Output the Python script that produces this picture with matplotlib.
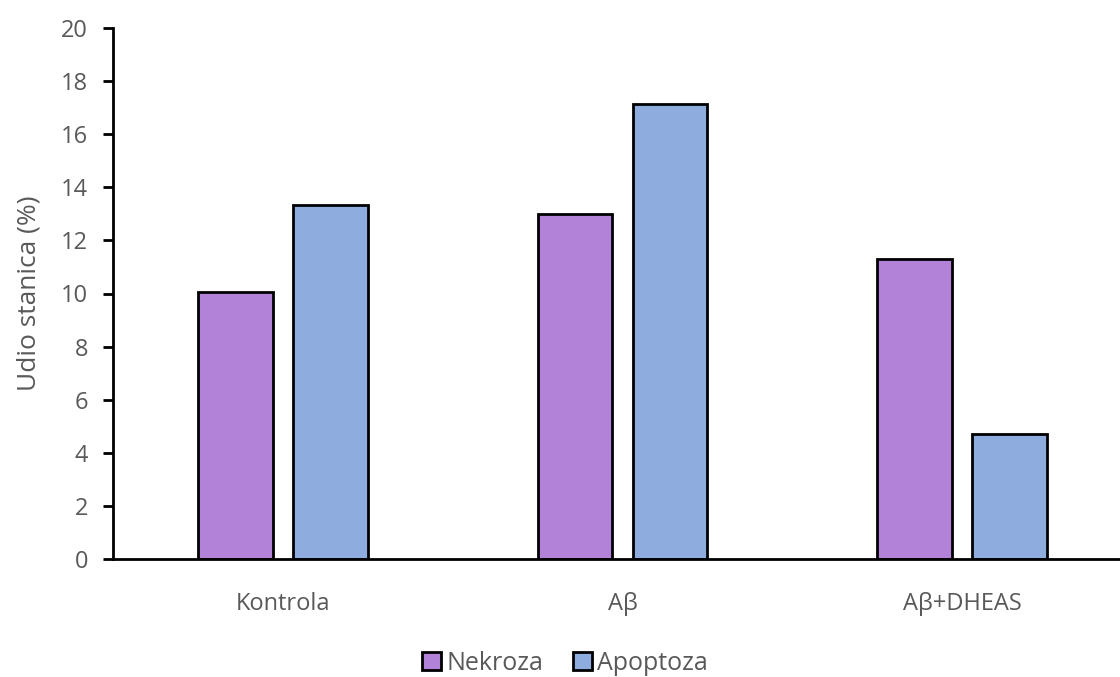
import numpy as np
import matplotlib
matplotlib.use("Agg")
import matplotlib.pyplot as plt

categories = ["Kontrola", "Aβ", "Aβ+DHEAS"]
nekroza = [10.05, 12.98, 11.3]
apoptoza = [13.33, 17.15, 4.72]

plt.rcParams['font.family'] = ['Open Sans', 'DejaVu Sans']

fig = plt.figure(figsize=(11.2, 6.77), dpi=100)
ax = fig.add_axes([113 / 1120, 118 / 677, 1019 / 1120, 531 / 677])

x = np.arange(len(categories))
w = 0.22
ax.bar(x - 0.14, nekroza, w, color="#B281D8", edgecolor="black", linewidth=2, label="Nekroza")
ax.bar(x + 0.14, apoptoza, w, color="#8EACDD", edgecolor="black", linewidth=2, label="Apoptoza")

ax.set_xlim(-0.5, 2.5)
ax.set_ylim(0, 20)
ax.set_yticks(range(0, 21, 2))
ax.set_xticks(x)
ax.set_xticklabels(categories)
ax.tick_params(axis="x", length=0, pad=24, labelsize=17, labelcolor="#595959")
ax.tick_params(axis="y", length=7, width=2, labelsize=17, labelcolor="#595959", pad=11)
ax.set_ylabel("Udio stanica (%)", fontsize=19, color="#595959", labelpad=14)

for s in ["top", "right"]:
    ax.spines[s].set_visible(False)
ax.spines["left"].set_linewidth(2)
ax.spines["bottom"].set_linewidth(2)

ax.legend(loc="center", bbox_to_anchor=(565 / 1120, 14 / 677), bbox_transform=fig.transFigure,
          ncol=2, frameon=False, fontsize=18, handlelength=0.75, handleheight=0.75,
          handletextpad=0.2, columnspacing=1.2, labelcolor="#595959")

fig.savefig("out.png", dpi=100)
